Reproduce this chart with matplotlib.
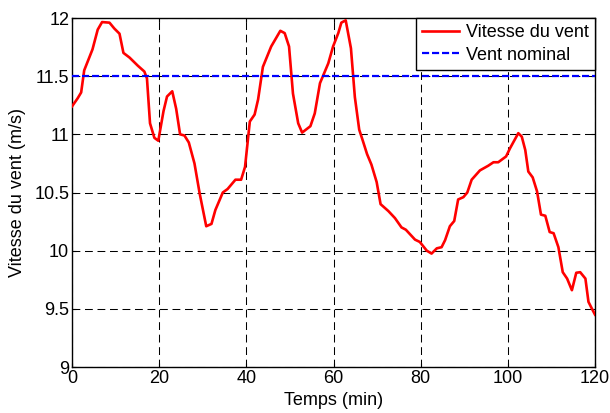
import matplotlib
matplotlib.use("Agg")
import matplotlib.pyplot as plt

plt.rcParams['font.family'] = ['Liberation Sans', 'DejaVu Sans']

time_min = [0, 1.3, 2.1, 2.8, 4.7, 5.9, 6.9, 8.6, 9.7, 10.9, 11.8, 13.2, 15.1, 16.6, 17.2,
            17.9, 18.9, 19.8, 21.0, 21.8, 23.0, 23.9, 24.8, 25.8, 26.8, 28.1, 29.3, 30.8,
            32.0, 32.9, 34.6, 35.7, 37.5, 38.8, 39.7, 40.8, 41.9, 42.7, 43.8, 45.7, 47.8,
            48.8, 49.8, 50.7, 51.9, 52.8, 54.7, 55.7, 56.9, 58.8, 59.9, 61.1, 61.8, 62.8,
            64.0, 64.9, 65.9, 66.6, 67.7, 68.7, 69.9, 70.8, 72.6, 74.1, 75.6, 76.6, 78.7,
            79.8, 81.4, 82.5, 83.7, 84.8, 85.6, 86.7, 87.7, 88.6, 89.8, 90.7, 91.7, 93.6,
            95.5, 96.7, 97.8, 99.6, 100.5, 102.4, 103.2, 104.0, 104.7, 105.7, 106.7, 107.6,
            108.6, 109.6, 110.5, 111.6, 112.6, 113.6, 114.7, 115.7, 116.6, 117.8, 118.5,
            119.1, 120.0]
wind_speed = [11.24, 11.31, 11.36, 11.55, 11.73, 11.90, 11.965, 11.96, 11.91, 11.865, 11.70,
              11.66, 11.59, 11.54, 11.48, 11.095, 10.97, 10.945, 11.20, 11.325, 11.37, 11.22,
              11.00, 10.99, 10.93, 10.75, 10.49, 10.21, 10.23, 10.35, 10.50, 10.53, 10.61,
              10.61, 10.72, 11.11, 11.17, 11.30, 11.58, 11.755, 11.89, 11.87, 11.755, 11.35,
              11.095, 11.015, 11.07, 11.18, 11.44, 11.61, 11.755, 11.87, 11.96, 11.98, 11.74,
              11.32, 11.04, 10.96, 10.83, 10.74, 10.59, 10.40, 10.34, 10.28, 10.20, 10.18,
              10.095, 10.075, 10.00, 9.975, 10.02, 10.03, 10.09, 10.21, 10.255, 10.44, 10.46,
              10.50, 10.61, 10.69, 10.73, 10.76, 10.76, 10.81, 10.88, 11.01, 10.98, 10.865,
              10.68, 10.63, 10.51, 10.31, 10.30, 10.16, 10.15, 10.03, 9.815, 9.76, 9.66,
              9.81, 9.815, 9.76, 9.56, 9.515, 9.45]
nominal_wind = 11.5

x_ticks = [0, 20, 40, 60, 80, 100, 120]
y_ticks = [9, 9.5, 10, 10.5, 11, 11.5, 12]
y_ticklabels = ['9', '9.5', '10', '10.5', '11', '11.5', '12']

fig = plt.figure(figsize=(6.10, 4.13), dpi=100)
ax = fig.add_axes([72/610, 1-367/413, (595-72)/610, (367-18)/413])

ax.plot(time_min, wind_speed, color='#ff0000', lw=1.9, label='Vitesse du vent', zorder=3)
ax.axhline(nominal_wind, color='#0000ff', lw=1.6, linestyle=(0, (3.2, 1.3)),
           label='Vent nominal', zorder=3)

ax.set_xlim(0, 120)
ax.set_ylim(9, 12)
ax.set_xticks(x_ticks)
ax.set_yticks(y_ticks)
ax.set_yticklabels(y_ticklabels)
ax.tick_params(direction='in', length=3, width=0.8, labelsize=13, pad=2,
               top=True, right=True)
ax.grid(True, color='black', linestyle=(0, (7.5, 4.5)), lw=0.75)
for s in ax.spines.values():
    s.set_linewidth(1.0)

ax.set_xlabel('Temps (min)', fontsize=13, labelpad=4)
ax.set_ylabel('Vitesse du vent (m/s)', fontsize=13, labelpad=6)

leg = ax.legend(loc='upper right', fontsize=13, frameon=True, fancybox=False,
                edgecolor='black', borderaxespad=0, handlelength=2.0,
                borderpad=0.35, labelspacing=0.3, handletextpad=0.4)
leg.get_frame().set_linewidth(1.0)
leg.get_frame().set_alpha(1)

fig.savefig('out.png', dpi=100)
